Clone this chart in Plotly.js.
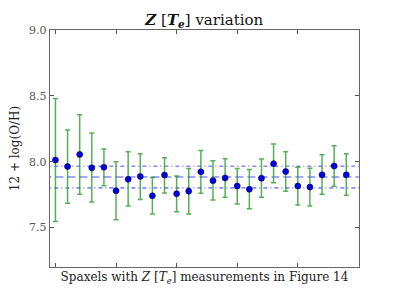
<!DOCTYPE html>
<html>
<head>
<meta charset="utf-8">
<script src="https://cdn.plot.ly/plotly-3.0.1.min.js"></script>
<style>html,body{margin:0;padding:0;background:#fff;}#chart{width:399px;height:299px;}</style>
</head>
<body>
<div id="chart"></div>
<script>
// Spaxel index (0..24)
const spaxels = [0,1,2,3,4,5,6,7,8,9,10,11,12,13,14,15,16,17,18,19,20,21,22,23,24];
// 12 + log(O/H) values
const metallicity = [8.012,7.963,8.055,7.953,7.958,7.779,7.866,7.888,7.741,7.898,7.756,7.776,7.923,7.856,7.876,7.815,7.790,7.875,7.985,7.925,7.815,7.807,7.900,7.967,7.900];
// error bar upper and lower ends
const errTop = [8.480,8.240,8.357,8.217,8.097,8.000,8.075,8.060,7.880,8.030,7.892,7.948,8.085,8.007,8.022,7.948,7.940,8.020,8.135,8.075,7.957,7.950,8.052,8.120,8.060];
const errBottom = [7.545,7.685,7.753,7.693,7.817,7.558,7.663,7.712,7.603,7.762,7.620,7.603,7.760,7.708,7.730,7.678,7.642,7.730,7.840,7.775,7.670,7.663,7.753,7.813,7.745];
const yTicks = [7.5, 8.0, 8.5, 9.0];
const yTickText = ['7.5', '8.0', '8.5', '9.0'];
const xTicks = [0, 5, 10, 15, 20];

const errPlus = metallicity.map((v, i) => errTop[i] - v);
const errMinus = metallicity.map((v, i) => v - errBottom[i]);
const n = metallicity.length;
const mean = metallicity.reduce((a, b) => a + b, 0) / n;
const std = Math.sqrt(metallicity.reduce((a, b) => a + (b - mean) * (b - mean), 0) / n);
const xSpan = [-1, 26];

const font = 'DejaVu Serif, Liberation Serif, serif';
const lineColor = 'rgba(40,40,255,0.55)';

const traces = [
  {x: xSpan, y: [mean, mean], mode: 'lines', line: {color: lineColor, width: 1.6, dash: '8px,4px'}, hoverinfo: 'skip', showlegend: false},
  {x: xSpan, y: [mean + std, mean + std], mode: 'lines', line: {color: lineColor, width: 1.6, dash: '4px,3px,1px,3px'}, hoverinfo: 'skip', showlegend: false},
  {x: xSpan, y: [mean - std, mean - std], mode: 'lines', line: {color: lineColor, width: 1.6, dash: '4px,3px,1px,3px'}, hoverinfo: 'skip', showlegend: false},
  {
    x: spaxels, y: metallicity, mode: 'markers', type: 'scatter', showlegend: false,
    marker: {color: '#0000e0', size: 6, line: {color: '#000050', width: 0.6}},
    error_y: {type: 'data', symmetric: false, array: errPlus, arrayminus: errMinus, color: 'rgba(30,150,30,0.75)', thickness: 1.5, width: 2.5}
  }
];

const layout = {
  width: 399, height: 299,
  margin: {l: 50, r: 40, t: 30, b: 32},
  paper_bgcolor: '#fff', plot_bgcolor: '#fff',
  font: {family: font, color: '#333', size: 12},
  title: {text: '<b><i>Z</i></b> [<b><i>T</i><sub><i>e</i></sub></b>] variation', font: {family: font, size: 15, color: '#111'}, x: 0.512, xanchor: 'center', y: 0.935, yanchor: 'middle'},
  xaxis: {
    range: [-0.45, 25.05], tickvals: xTicks, showticklabels: false,
    ticks: 'inside', ticklen: 4, tickcolor: '#555', mirror: 'allticks',
    showline: true, linecolor: '#666', linewidth: 1.2, showgrid: false, zeroline: false,
    automargin: false,
    title: {text: 'Spaxels with <i>Z</i> [<i>T</i><sub><i>e</i></sub>] measurements in Figure 14', font: {family: font, size: 12, color: '#222'}, standoff: 5}
  },
  yaxis: {
    range: [7.2, 9.0], tickvals: yTicks, ticktext: yTickText,
    ticks: 'inside', ticklen: 4, tickcolor: '#555', mirror: 'allticks',
    showline: true, linecolor: '#666', linewidth: 1.2, showgrid: false, zeroline: false,
    automargin: false,
    tickfont: {family: font, size: 11, color: '#555'},
    title: {text: '12 + log(O/H)', font: {family: font, size: 12, color: '#222'}, standoff: 6}
  }
};

Plotly.newPlot('chart', traces, layout, {staticPlot: true, displayModeBar: false});
</script>
</body>
</html>
